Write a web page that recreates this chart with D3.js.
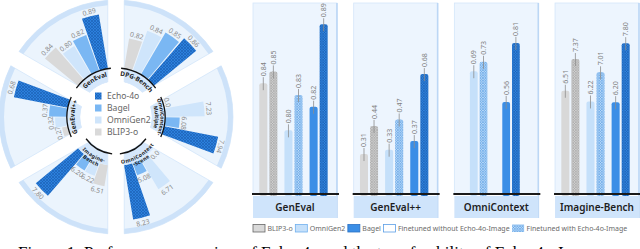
<!DOCTYPE html>
<html>
<head>
<meta charset="utf-8">
<script src="https://cdn.jsdelivr.net/npm/d3@7"></script>
<style>
body { margin: 0; background: #fff; }
svg { display: block; font-family: "Noto Sans", sans-serif; }
</style>
</head>
<body>
<svg id="chart" width="640" height="249"></svg>
<script>
// ---- radial chart data ----
var models = ["BLIP3-o", "OmniGen2", "Bagel", "Echo-4o"];
var benches = ["GenEval", "DPG-Bench", "OmniContext-Multiple", "OmniContext-Scene", "Imagine-Bench", "GenEval++"];
var benchLines = [["GenEval"], ["DPG-Bench"], ["OmniContext-", "Multiple"], ["OmniContext", "-Scene"], ["Imagine-", "Bench"], ["GenEval++"]];
var radialValues = [
	[0.84, 0.80, 0.82, 0.89],
	[0.82, 0.84, 0.85, 0.86],
	[0.0, 7.23, 6.08, 7.94],
	[0.0, 6.71, 5.08, 8.23],
	[6.51, 6.22, 6.20, 7.80],
	[0.27, 0.32, 0.37, 0.68]
];
var radialFloor = [0.66, 0.77, 5.4, 4.1, 5.7, 0.22];

// ---- bar panels data ----
var panels = ["GenEval", "GenEval++", "OmniContext", "Imagine-Bench"];
var panelModels = [["BLIP3-o", "OmniGen2", "Bagel"], ["BLIP3-o", "OmniGen2", "Bagel"], ["OmniGen2", "Bagel"], ["BLIP3-o", "OmniGen2", "Bagel"]];
var baseScores = [[0.84, 0.80, 0.82], [0.31, 0.33, 0.37], [0.69, 0.56], [6.51, 6.22, 6.20]];
var tunedScores = [[0.85, 0.83, 0.89], [0.44, 0.47, 0.68], [0.73, 0.81], [7.37, 7.01, 7.80]];
var panelDomains = [[0.746, 0.908], [0.125, 1.009], [0.17, 0.979], [3.71, 8.89]];
var legendLabels = ["BLIP3-o", "OmniGen2", "Bagel", "Finetuned without Echo-4o-Image", "Finetuned with Echo-4o-Image"];

var caption = "Figure 1: Performance overview of Echo-4o and the transferability of Echo-4o-Image across models.";

var svg = d3.select("#chart");
var defs = svg.append("defs");

function hatch(id, base, line, size, sw) {
	var p = defs.append("pattern").attr("id", id)
		.attr("patternUnits", "userSpaceOnUse")
		.attr("width", size).attr("height", size);
	p.append("rect").attr("width", size).attr("height", size).attr("fill", base);
	p.append("path")
		.attr("d", "M0,0L" + size + "," + size + "M" + size + ",0L0," + size)
		.attr("stroke", line).attr("stroke-width", sw);
}
hatch("hEcho", "#2c80dc", "#1c62b8", 3, 0.7);
hatch("hGray", "#cfcfcf", "#a3a3a3", 2.6, 0.6);
hatch("hLight", "#b7d8f8", "#5d9fe4", 2.6, 0.6);
hatch("hBlue", "#2f84de", "#1a5cae", 2.6, 0.6);

var radialColor = {"BLIP3-o": "#d9d9d9", "OmniGen2": "#cfe5fb", "Bagel": "#7ab7f3", "Echo-4o": "url(#hEcho)"};
var barColor = {"BLIP3-o": "#d8d8d8", "OmniGen2": "#c5e0fa", "Bagel": "#3b8ee6"};
var barHatch = {"BLIP3-o": "url(#hGray)", "OmniGen2": "url(#hLight)", "Bagel": "url(#hBlue)"};

// ================= radial chart =================
var cx = 116, cy = 117, rad = Math.PI / 180;
var g = svg.append("g").attr("transform", "translate(" + cx + "," + cy + ")");

var sectorAngle = d3.scaleBand().domain(benches).range([-60 * rad, 300 * rad]);

function sector(r0, r1) {
	return d3.arc().innerRadius(r0).outerRadius(r1)
		.padAngle(0.15).padRadius(110)
		.startAngle(function(d) { return sectorAngle(d); })
		.endAngle(function(d) { return sectorAngle(d) + sectorAngle.bandwidth(); });
}

g.selectAll(".sector").data(benches).enter().append("path")
	.attr("class", "sector")
	.attr("d", sector(36, 117))
	.attr("fill", "#ebf4fd")
	.attr("stroke", "#d3e6fa").attr("stroke-width", 0.8);

g.selectAll(".rim").data(benches).enter().append("path")
	.attr("class", "rim")
	.attr("d", sector(112, 117))
	.attr("fill", "#cde2f9");

function pt(a, r) { return [Math.sin(a) * r, -Math.cos(a) * r]; }

benches.forEach(function(b, i) {
	var a0 = sectorAngle(b) + sectorAngle.bandwidth() / 2;
	var flip = i === 3 || i === 4;
	var ang = d3.scaleBand().domain(models)
		.range([a0 - 20.5 * rad, a0 + 20.5 * rad]).paddingInner(0.08);
	var r = d3.scaleLinear().domain([radialFloor[i], d3.max(radialValues[i])])
		.range([49, 104]).clamp(true);
	var rows = models.map(function(m, k) { return {m: m, v: radialValues[i][k]}; });

	g.selectAll(".rbar" + i).data(rows).enter().append("path")
		.attr("d", function(d) {
			return d3.arc().innerRadius(49).outerRadius(r(d.v))
				.startAngle(ang(d.m)).endAngle(ang(d.m) + ang.bandwidth())();
		})
		.attr("fill", function(d) { return radialColor[d.m]; });

	g.selectAll(".rlab" + i).data(rows).enter().append("text")
		.attr("transform", function(d) {
			var a = ang(d.m) + ang.bandwidth() / 2;
			var p = pt(a, r(d.v) + 2);
			var deg = a / rad + (flip ? -180 : 0);
			return "translate(" + p[0] + "," + p[1] + ") rotate(" + deg + ")";
		})
		.attr("text-anchor", "middle")
		.attr("dominant-baseline", flip ? "hanging" : "auto")
		.attr("font-size", 6.8)
		.attr("fill", "#8a8a8a")
		.text(function(d) { return d.v === 0 ? "0.0" : d3.format(".2f")(d.v); });

	// label band and black arc
	g.append("path").datum(b).attr("d", sector(36, 49)).attr("fill", "#d5e7fb");
	var ra = flip ? 37 : 49;
	var s = pt(a0 - 24 * rad, ra), e = pt(a0 + 24 * rad, ra);
	g.append("path")
		.attr("d", "M" + s + "A" + ra + "," + ra + " 0 0 1 " + e)
		.attr("fill", "none").attr("stroke", "#111").attr("stroke-width", 1.3);

	// curved bench name
	var lines = benchLines[i];
	lines.forEach(function(t, j) {
		var fs = lines.length > 1 ? 5.2 : 6.4;
		var rr = flip ? 42 + j * 5.5 : (lines.length > 1 ? 44.5 - j * 5.5 : 41.5);
		var p1 = pt(a0 - 30 * rad, rr), p2 = pt(a0 + 30 * rad, rr);
		var d = flip ? "M" + p2 + "A" + rr + "," + rr + " 0 0 0 " + p1
			: "M" + p1 + "A" + rr + "," + rr + " 0 0 1 " + p2;
		var id = "lp" + i + "_" + j;
		defs.append("path").attr("id", id).attr("d", d);
		g.append("text")
			.attr("font-size", fs).attr("font-weight", 700).attr("fill", "#1a1a1a")
			.attr("dominant-baseline", flip ? "hanging" : "auto")
			.append("textPath").attr("href", "#" + id)
			.attr("startOffset", "50%").attr("text-anchor", "middle")
			.text(t);
	});
});

// centre legend
g.append("circle").attr("r", 35.5).attr("fill", "#fff");
var legendOrder = ["Echo-4o", "Bagel", "OmniGen2", "BLIP3-o"];
var ly = d3.scalePoint().domain(legendOrder).range([-21, 15]);
var lg = g.selectAll(".rleg").data(legendOrder).enter().append("g")
	.attr("transform", function(d) { return "translate(-21," + ly(d) + ")"; });
lg.append("rect").attr("x", 0).attr("y", -3.5).attr("width", 6.5).attr("height", 7)
	.attr("fill", function(d) { return radialColor[d]; });
lg.append("text").attr("x", 12).attr("dy", "0.35em")
	.attr("font-size", 8.6).attr("fill", "#666").text(function(d) { return d; });

// ================= bar panels =================
var px = d3.scaleBand().domain(panels).range([253, 639]).paddingInner(0.166);
var panelTop = 3, axisY = 194;

panels.forEach(function(p, i) {
	var w = px.bandwidth();
	var pg = svg.append("g").attr("transform", "translate(" + px(p) + ",0)");
	pg.append("rect").attr("x", 0).attr("y", panelTop).attr("width", w).attr("height", axisY - panelTop)
		.attr("fill", "#edf5fe").attr("stroke", "#d4e6fa").attr("stroke-width", 0.8);
	pg.append("line").attr("x1", w).attr("x2", w).attr("y1", panelTop).attr("y2", axisY + 24)
		.attr("stroke", "#bcd7f5").attr("stroke-width", 1.6);

	var y = d3.scaleLinear().domain(panelDomains[i]).range([axisY, panelTop]);
	var n = panelModels[i].length;
	var gx = d3.scaleBand().domain(panelModels[i]).range([0, w - 3])
		.paddingInner(n > 2 ? 0.28 : 0.46).paddingOuter(n > 2 ? 0.25 : 0.48);
	var sub = d3.scaleBand().domain([0, 1]).range([0, gx.bandwidth()]).paddingInner(0.2);

	var rows = [];
	panelModels[i].forEach(function(m, k) {
		rows.push({m: m, k: 0, v: baseScores[i][k]});
		rows.push({m: m, k: 1, v: tunedScores[i][k]});
	});
	function mid(d) { return gx(d.m) + sub(d.k) + sub.bandwidth() / 2; }

	pg.selectAll(".bar").data(rows).enter().append("rect")
		.attr("class", "bar")
		.attr("x", function(d) { return gx(d.m) + sub(d.k); })
		.attr("y", function(d) { return y(d.v); })
		.attr("width", sub.bandwidth())
		.attr("height", function(d) { return axisY - y(d.v) + 2; })
		.attr("rx", 2)
		.attr("fill", function(d) { return d.k ? barHatch[d.m] : barColor[d.m]; });

	pg.selectAll(".err").data(rows).enter().append("line")
		.attr("x1", mid).attr("x2", mid)
		.attr("y1", function(d) { return y(d.v) - 6; })
		.attr("y2", function(d) { return y(d.v) + 7; })
		.attr("stroke", "#8d8d8d").attr("stroke-width", 0.8);

	pg.selectAll(".val").data(rows).enter().append("text")
		.attr("transform", function(d) { return "translate(" + mid(d) + "," + (y(d.v) - 7) + ") rotate(-90)"; })
		.attr("dominant-baseline", "central")
		.attr("font-size", 7).attr("fill", "#808080")
		.text(function(d) { return d3.format(".2f")(d.v); });

	pg.append("line").attr("x1", -1).attr("x2", w + 2).attr("y1", axisY).attr("y2", axisY)
		.attr("stroke", "#1a1a1a").attr("stroke-width", 2);
	pg.append("rect").attr("x", 0).attr("y", axisY + 2).attr("width", w).attr("height", 22)
		.attr("fill", "#cfe4fb");
	pg.append("text").attr("x", w / 2).attr("y", axisY + 13).attr("dy", "0.35em")
		.attr("text-anchor", "middle").attr("font-size", 10).attr("font-weight", 600)
		.attr("fill", "#1d1d1d").text(p);
});

// bottom legend
var legFill = ["#d9d9d9", "#c5e0fa", "#3b8ee6", "#ffffff", "url(#hLight)"];
var legStroke = ["#666", "#6fb0ee", "#2a70c4", "#5b9fe6", "none"];
var lx = 253;
legendLabels.forEach(function(t, k) {
	svg.append("rect").attr("x", lx).attr("y", 224.5).attr("width", 12).attr("height", 7.5)
		.attr("fill", legFill[k]).attr("stroke", legStroke[k]).attr("stroke-width", 0.8);
	var tx = svg.append("text").attr("x", lx + 14.5).attr("y", 228.5).attr("dy", "0.35em")
		.attr("font-size", 7).attr("fill", "#6a6a6a").text(t);
	lx += 14.5 + tx.node().getComputedTextLength() + 2.5;
});

svg.append("text").attr("x", 18).attr("y", 258)
	.attr("font-family", "Liberation Serif, serif").attr("font-size", 17)
	.attr("fill", "#000").text(caption);
</script>
</body>
</html>
